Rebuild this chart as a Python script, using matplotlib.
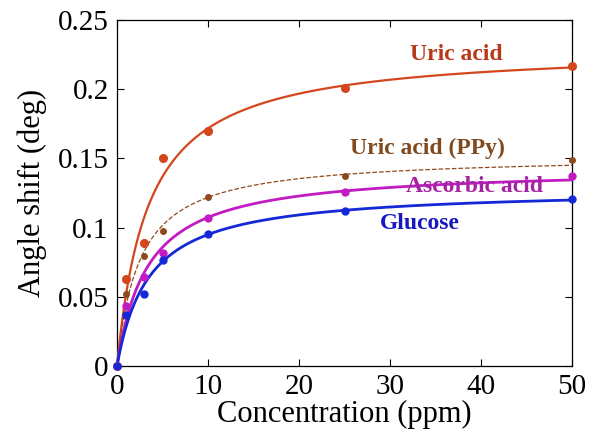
import numpy as np
import matplotlib
matplotlib.use("Agg")
import matplotlib.pyplot as plt

plt.rcParams['font.family'] = ['Liberation Serif', 'DejaVu Serif']
plt.rcParams['mathtext.fontset'] = 'stix'

conc = np.array([0, 1, 3, 5, 10, 25, 50], dtype=float)
uric = np.array([0, 0.063, 0.089, 0.150, 0.170, 0.201, 0.217])
uric_ppy = np.array([0, 0.052, 0.0794, 0.0975, 0.122, 0.137, 0.1487])
ascorbic = np.array([0, 0.0433, 0.064, 0.0818, 0.107, 0.126, 0.137])
glucose = np.array([0, 0.0368, 0.052, 0.0765, 0.0953, 0.112, 0.121])

xticks = [0, 10, 20, 30, 40, 50]
yticks = [0, 0.05, 0.1, 0.15, 0.2, 0.25]
yticklabels = ['0', '0.05', '0.1', '0.15', '0.2', '0.25']


def langmuir_fit(x, y):
    best = None
    for b in np.linspace(0.2, 20, 2000):
        f = x / (b + x)
        a = np.sum(y * f) / np.sum(f * f)
        sse = np.sum((y - a * f) ** 2)
        if best is None or sse < best[0]:
            best = (sse, a, b)
    return best[1], best[2]


W, H = 603, 445
fig = plt.figure(figsize=(W / 100, H / 100), dpi=100)
ax = fig.add_axes([117 / W, (H - 366) / H, (572 - 117) / W, (366 - 20) / H])

xs = np.linspace(0, 50, 500)
series = [
    (uric, '#D4461C', '-', 1.6, 5.5),
    (uric_ppy, '#8E4A1E', '--', 0.9, 4.0),
    (ascorbic, '#C21BC2', '-', 2.0, 5.0),
    (glucose, '#1428D8', '-', 2.0, 5.0),
]
for y, c, ls, lw, ms in series:
    a, b = langmuir_fit(conc, y)
    ax.plot(xs, a * xs / (b + xs), color=c, ls=ls, lw=lw, clip_on=False, zorder=3)
    ax.plot(conc, y, 'o', color=c, ms=ms, mec=c, clip_on=False, zorder=4)

ax.set_xlim(0, 50)
ax.set_ylim(0, 0.25)
ax.set_xticks(xticks)
ax.set_yticks(yticks)
ax.set_yticklabels(yticklabels)
ax.tick_params(direction='in', top=True, right=True, length=5, width=0.8,
               labelsize=21, pad=6)
for s in ax.spines.values():
    s.set_linewidth(0.9)

ax.set_xlabel('Concentration (ppm)', fontsize=22, labelpad=0)
ax.set_ylabel('Angle shift (deg)', fontsize=22, labelpad=8)


def label(px, py, txt, col):
    fig.text(px / W, 1 - py / H, txt, color=col, fontsize=17, fontweight='bold',
             ha='center', va='center')


label(456.5, 54, 'Uric acid', '#B8381A')
label(427, 148, 'Uric acid (PPy)', '#7E4A1E')
label(475, 187, 'Ascorbic acid', '#A424A4')
label(419.5, 223, 'Glucose', '#1818C0')

fig.savefig('out.png', dpi=100)
